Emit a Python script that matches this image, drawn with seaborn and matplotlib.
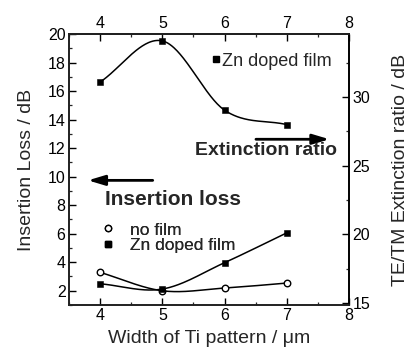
import numpy as np
import pandas as pd
import matplotlib
matplotlib.use("Agg")
import matplotlib.pyplot as plt
from matplotlib.lines import Line2D
from matplotlib.ticker import MultipleLocator
import seaborn as sns

# values
width = [4, 5, 6, 7]
loss_no_film = [3.29, 2.0, 2.19, 2.54]
loss_zn = [2.49, 2.12, 3.97, 6.06]
ext_zn = [31.1, 34.1, 29.05, 28.0]


def smooth(x, y, n=60):
    # Catmull-Rom curve through the points, only for the drawn line
    x = np.asarray(x, float)
    y = np.asarray(y, float)
    m = np.gradient(y, x)
    xs, ys = [], []
    for i in range(len(x) - 1):
        h = x[i + 1] - x[i]
        t = np.linspace(0, 1, n)
        h00 = 2 * t**3 - 3 * t**2 + 1
        h10 = t**3 - 2 * t**2 + t
        h01 = -2 * t**3 + 3 * t**2
        h11 = t**3 - t**2
        xs.append(x[i] + t * h)
        ys.append(h00 * y[i] + h10 * h * m[i] + h01 * y[i + 1] + h11 * h * m[i + 1])
    return pd.DataFrame({"x": np.concatenate(xs), "y": np.concatenate(ys)})


sns.set_style("ticks")
plt.rcParams["font.family"] = ["Liberation Sans", "DejaVu Sans"]
plt.rcParams["axes.linewidth"] = 1.2

fig = plt.figure(figsize=(4.12, 3.49), dpi=100)
ax = fig.add_axes([0.1675, 0.126, 0.6796, 0.7765])
ax2 = ax.twinx()

df = pd.DataFrame({"width": width, "no": loss_no_film, "zn": loss_zn, "ext": ext_zn})

# insertion loss (left axis)
sns.lineplot(data=smooth(width, loss_no_film), x="x", y="y", ax=ax, color="black",
             lw=1.1, sort=False, legend=False)
sns.lineplot(data=smooth(width, loss_zn), x="x", y="y", ax=ax, color="black",
             lw=1.1, sort=False, legend=False)
sns.scatterplot(data=df, x="width", y="no", ax=ax, marker="o", s=22,
                facecolor="white", edgecolor="black", linewidth=1.0, zorder=5)
sns.scatterplot(data=df, x="width", y="zn", ax=ax, marker="s", s=24,
                color="black", edgecolor="black", zorder=5)

# extinction ratio (right axis)
sns.lineplot(data=smooth(width, ext_zn), x="x", y="y", ax=ax2, color="black",
             lw=1.1, sort=False, legend=False)
sns.scatterplot(data=df, x="width", y="ext", ax=ax2, marker="s", s=24,
                color="black", edgecolor="black", zorder=5)

ax.set_xlim(3.5, 8)
ax.set_ylim(1, 20)
ax2.set_ylim(14.85, 34.6)

ax.xaxis.set_major_locator(MultipleLocator(1))
ax.xaxis.set_minor_locator(MultipleLocator(0.5))
ax.yaxis.set_major_locator(MultipleLocator(2))
ax.yaxis.set_minor_locator(MultipleLocator(1))
ax2.yaxis.set_major_locator(MultipleLocator(5))
ax2.yaxis.set_minor_locator(MultipleLocator(2.5))
ax.set_xticks([4, 5, 6, 7, 8])
ax.set_yticks(range(2, 21, 2))

top = ax.secondary_xaxis("top")
top.set_xticks([4, 5, 6, 7, 8])
top.xaxis.set_minor_locator(MultipleLocator(0.5))

for a in (ax, ax2, top):
    a.tick_params(which="major", direction="in", length=5, width=1.0,
                  labelsize=11.5, pad=2.5, colors="black")
    a.tick_params(which="minor", direction="in", length=2.5, width=0.9)
for sp in ax.spines.values():
    sp.set_color("black")
    sp.set_linewidth(1.2)
ax2.spines["right"].set_color("black")
top.spines["top"].set_linewidth(1.2)

ax.set_xlabel("Width of Ti pattern / \u03bcm", fontsize=14, labelpad=5)
ax.set_ylabel("Insertion Loss / dB", fontsize=14, labelpad=9)
ax2.set_ylabel("TE/TM Extinction ratio / dB", fontsize=14, labelpad=16)

# annotations
ax.annotate("", xy=(3.76, 9.74), xytext=(4.89, 9.74),
            arrowprops=dict(arrowstyle="-|>,head_length=1.0,head_width=0.3",
                            color="black", lw=2))
ax.text(4.08, 8.4, "Insertion loss", fontsize=15, fontweight="bold",
        ha="left", va="center")
ax2.annotate("", xy=(7.73, 26.93), xytext=(6.46, 26.93),
             arrowprops=dict(arrowstyle="-|>,head_length=1.0,head_width=0.3",
                             color="black", lw=2))
ax2.text(5.53, 26.13, "Extinction ratio", fontsize=14, fontweight="bold",
         ha="left", va="center")

h_no = Line2D([], [], ls="none", marker="o", ms=4.5, mfc="white", mec="black", mew=1.0)
h_zn = Line2D([], [], ls="none", marker="s", ms=4.5, mfc="black", mec="black")
leg1 = ax.legend([h_no, h_zn], ["no film", "Zn doped film"], loc="upper left",
                 bbox_to_anchor=(0.12, 0.305), frameon=False, fontsize=12.5,
                 borderpad=0, borderaxespad=0, handlelength=0.6,
                 handletextpad=1.0, labelspacing=0)
ax.add_artist(leg1)
ax2.legend([h_zn], ["Zn doped film"], loc="upper left",
           bbox_to_anchor=(0.511, 0.931), frameon=False, fontsize=13,
           borderpad=0, borderaxespad=0, handlelength=0.4,
           handletextpad=0.15)

fig.savefig("out.png", dpi=100)
